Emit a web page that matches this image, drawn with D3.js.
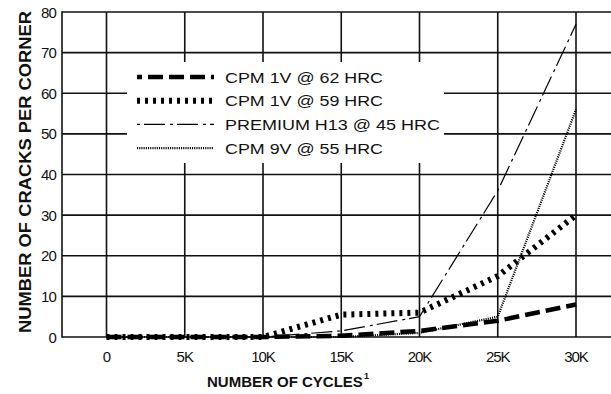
<!DOCTYPE html>
<html lang="en">
<head>
    <meta charset="UTF-8">
    <title>Cracks per corner</title>
    <script src="https://d3js.org/d3.v7.min.js"></script>
    <style>
        body { margin: 0; background: #fff; }
        text { font-family: "Liberation Sans", Arial, sans-serif; fill: #111; }
        .grid { stroke: #111; stroke-width: 1.6; }
        .series { fill: none; stroke: #000; }
    </style>
</head>
<body>
<div id="chart"></div>
<script>
    // data
    const cycles = [0, 5000, 10000, 15000, 20000, 25000, 30000];
    const xTickLabels = ["0", "5K", "10K", "15K", "20K", "25K", "30K"];
    const yTicks = [0, 10, 20, 30, 40, 50, 60, 70, 80];
    const cpm1v62 = [0, 0, 0, 0.3, 1.5, 4, 8];
    const cpm1v59 = [0, 0, 0, 5.5, 6, 15, 30];
    const h13 = [0, 0, 0, 1.5, 5, 36, 77];
    const cpm9v = [0, 0, 0, 0, 1, 5, 56];
    const names = ["CPM 1V @ 62 HRC", "CPM 1V @ 59 HRC", "PREMIUM H13 @ 45 HRC", "CPM 9V @ 55 HRC"];

    const series = [
        { name: names[0], values: cpm1v62, width: 4.5, dash: "15,6", legendOffset: 10, textLen: 158 },
        { name: names[1], values: cpm1v59, width: 6, dash: "3,5", legendOffset: 0, textLen: 158 },
        { name: names[2], values: h13, width: 1.2, dash: "3,4,21,5", legendOffset: 0, textLen: 215 },
        { name: names[3], values: cpm9v, width: 2.2, dash: "1.1,1.1", legendOffset: 0, textLen: 158 }
    ];

    const width = 611, height = 394;
    const frameLeft = 62, frameTop = 12, frameBottom = 337;

    const x = d3.scaleLinear().domain([0, 30000]).range([106.5, 576]);
    const y = d3.scaleLinear().domain([0, 80]).range([frameBottom, frameTop]);

    const svg = d3.select("#chart").append("svg")
        .attr("width", width).attr("height", height);

    // grid
    svg.selectAll(".hgrid").data(yTicks).enter().append("line")
        .attr("class", "grid")
        .attr("x1", frameLeft).attr("x2", width)
        .attr("y1", d => y(d)).attr("y2", d => y(d));
    svg.selectAll(".vgrid").data(cycles).enter().append("line")
        .attr("class", "grid")
        .attr("x1", d => x(d)).attr("x2", d => x(d))
        .attr("y1", frameTop).attr("y2", frameBottom);
    svg.append("line").attr("class", "grid")
        .attr("x1", frameLeft).attr("x2", frameLeft)
        .attr("y1", frameTop - 0.8).attr("y2", frameBottom + 0.8);

    // tick labels
    svg.selectAll(".ylab").data(yTicks).enter().append("text")
        .attr("x", 56).attr("y", d => y(d) + 5.5)
        .attr("text-anchor", "end")
        .style("font-size", "15px")
        .style("letter-spacing", "-0.8px")
        .text(d => d);
    svg.selectAll(".xlab").data(cycles).enter().append("text")
        .attr("x", d => x(d))
        .attr("y", 362)
        .attr("text-anchor", "middle")
        .style("font-size", "15px")
        .style("letter-spacing", "-1px")
        .text((d, i) => xTickLabels[i]);

    // axis titles
    svg.append("text")
        .attr("x", 207).attr("y", 387)
        .style("font-size", "15px").style("font-weight", "bold")
        .text("NUMBER OF CYCLES");
    svg.append("text")
        .attr("x", 364).attr("y", 379)
        .style("font-size", "9px").style("font-weight", "bold")
        .text("1");

    svg.append("text")
        .attr("transform", "translate(31,172) rotate(-90)")
        .attr("text-anchor", "middle")
        .attr("textLength", 322).attr("lengthAdjust", "spacingAndGlyphs")
        .style("font-size", "16px").style("font-weight", "bold")
        .text("NUMBER OF CRACKS PER CORNER");

    // series lines
    const line = d3.line()
        .x((d, i) => x(cycles[i]))
        .y(d => y(d));
    svg.selectAll(".series").data(series).enter().append("path")
        .attr("class", "series")
        .attr("d", d => line(d.values))
        .attr("stroke-width", d => d.width)
        .attr("stroke-dasharray", d => d.dash);

    // legend
    svg.append("rect")
        .attr("x", 127).attr("y", 62).attr("width", 317).attr("height", 101)
        .attr("fill", "#fff");
    const leg = svg.selectAll(".leg").data(series).enter().append("g")
        .attr("transform", (d, i) => `translate(0,${77 + i * 23.7})`);
    leg.append("line")
        .attr("x1", 137).attr("x2", 214).attr("y1", 0).attr("y2", 0)
        .attr("stroke", "#000")
        .attr("stroke-width", d => d.width)
        .attr("stroke-dasharray", d => d.dash)
        .attr("stroke-dashoffset", d => d.legendOffset);
    leg.append("text")
        .attr("x", 225).attr("y", 5.5)
        .attr("textLength", d => d.textLen)
        .attr("lengthAdjust", "spacingAndGlyphs")
        .style("font-size", "15px")
        .text(d => d.name);
</script>
</body>
</html>
